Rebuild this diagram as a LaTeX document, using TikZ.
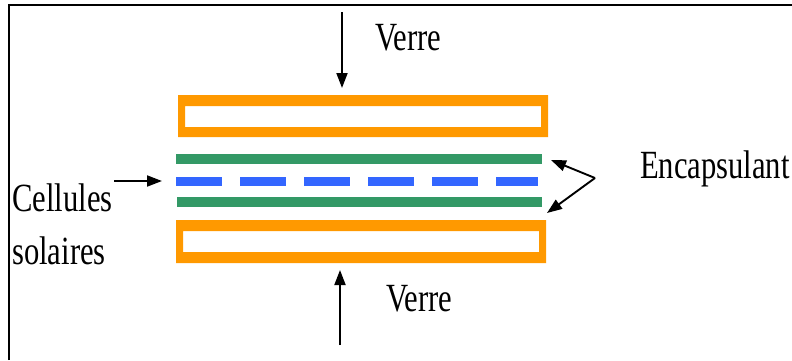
\documentclass[tikz,border=0pt]{standalone}
\usepackage{fontspec}
\usetikzlibrary{arrows.meta}
\newfontfamily\labelfont[FakeStretch=0.765]{Liberation Serif}
\definecolor{glassorange}{RGB}{255,153,0}
\definecolor{encgreen}{RGB}{51,153,102}
\definecolor{cellblue}{RGB}{51,102,255}
\tikzset{
  labeltext/.style={font=\labelfont\fontsize{40}{48}\selectfont, inner sep=0pt},
  pointer/.style={line width=1.9pt, -{Triangle[length=15pt,width=11pt]}},
  glassplate/.style={fill=glassorange, even odd rule},
  encapsheet/.style={draw=encgreen, line width=10pt},
  solarcells/.style={draw=cellblue, line width=9pt, dash pattern=on 46pt off 18pt},
  framelines/.style={line width=2pt}
}
\begin{document}
\begin{tikzpicture}[x=1pt, y=-1pt]
  \useasboundingbox (0,0) rectangle (792,360);
  % frame
  \draw[framelines] (9,360) -- (9,5) -- (792,5);
  % glass plates
  \fill[glassplate] (178,95) rectangle (548,137) (185,106) rectangle (541,127);
  \fill[glassplate] (176,220) rectangle (546,263) (183,231) rectangle (539,252);
  % encapsulant sheets and solar cells
  \draw[encapsheet] (176,158.5) -- (542,158.5);
  \draw[encapsheet] (177,202) -- (542,202);
  \draw[solarcells] (176,181.5) -- (538,181.5);
  % labels
  \node[labeltext, anchor=base west] (verretop) at (375,50) {Verre};
  \node[labeltext, anchor=base west] (verrebot) at (386,311) {Verre};
  \node[labeltext, anchor=base west] (encaps) at (640,178) {Encapsulant};
  \node[labeltext, anchor=base west] (cellules) at (12,211) {Cellules};
  \node[labeltext, anchor=base west] (solaires) at (12,264) {solaires};
  % arrow end points
  \coordinate (ta) at (342,12);
  \coordinate (tb) at (342,88);
  \coordinate (ba) at (340,345);
  \coordinate (bb) at (340,270);
  \coordinate (ca) at (114,181);
  \coordinate (cb) at (162,181);
  \coordinate (ev) at (595,178);
  \coordinate (eu) at (551,160);
  \coordinate (ed) at (547,213);
  % arrows
  \draw[pointer] (ta) -- (tb);
  \draw[pointer] (ba) -- (bb);
  \draw[pointer] (ca) -- (cb);
  \draw[pointer] (ev) -- (eu);
  \draw[pointer] (ev) -- (ed);
\end{tikzpicture}
\end{document}
